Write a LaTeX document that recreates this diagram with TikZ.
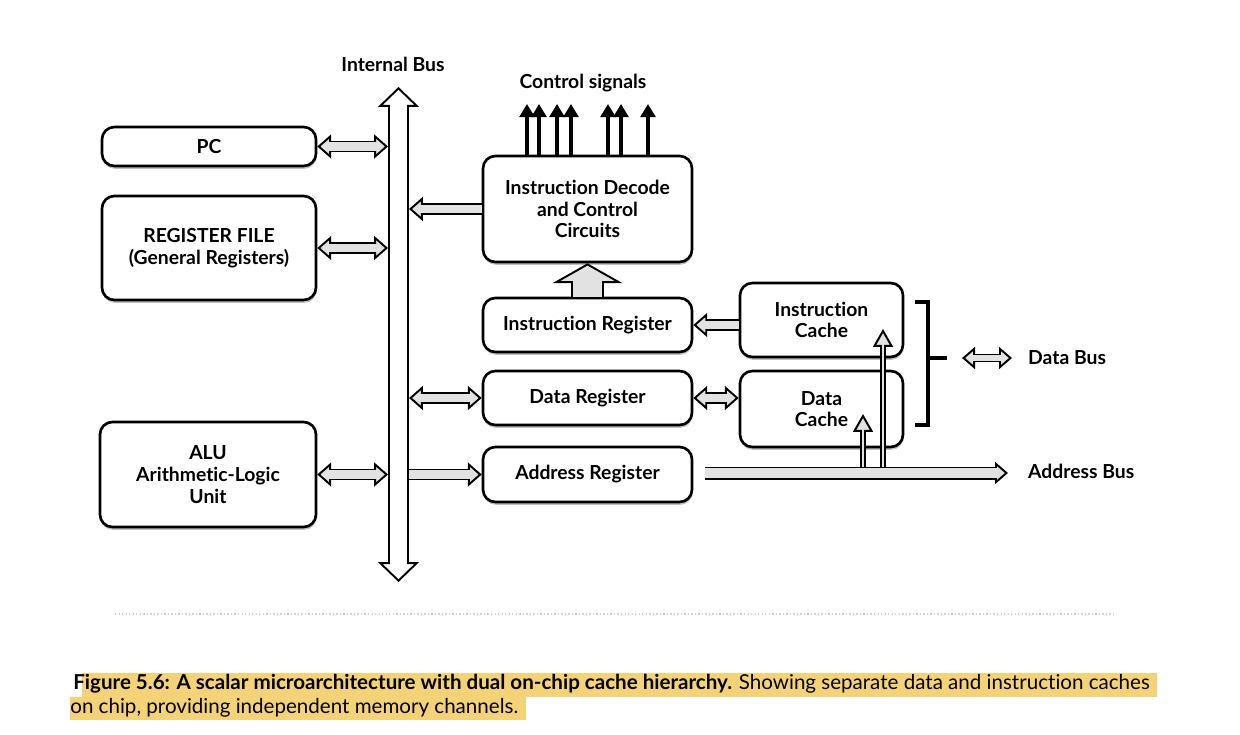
\documentclass[tikz,border=0pt]{standalone}
\usepackage{fontspec}
\setmainfont{Lato}[Ligatures=NoCommon]
\usetikzlibrary{arrows.meta,shadows}
\definecolor{busfill}{RGB}{226,226,226}
\definecolor{marker}{RGB}{244,210,120}
\tikzset{
  unit/.style={draw, line width=1.5pt, rounded corners=7pt, fill=white, align=center, inner sep=0pt,
    font=\bfseries\fontsize{11}{12.3}\selectfont,
    drop shadow={shadow xshift=0.3pt, shadow yshift=-1.6pt, fill=black!50}},
  lbl/.style={font=\bfseries\fontsize{11}{12}\selectfont},
  one/.style args={#1/#2/#3/#4}{line width=#1, draw=black,
    -{Triangle[width=#2, length=#3, line width=1.1pt, fill=#4]},
    postaction={draw=#4, line width=#1-2.2pt, arrows=-, shorten >=#3-1.8pt}},
  two/.style args={#1/#2/#3/#4}{line width=#1, draw=black,
    {Triangle[width=#2, length=#3, line width=1.1pt, fill=#4]}-{Triangle[width=#2, length=#3, line width=1.1pt, fill=#4]},
    postaction={draw=#4, line width=#1-2.2pt, arrows=-, shorten >=#3-1.8pt, shorten <=#3-1.8pt}},
  ctrl/.style={line width=2.3pt, -{Triangle[width=8.5pt, length=7.5pt]}},
}
\begin{document}
\begin{tikzpicture}[x=0.02cm, y=-0.02cm]
   \useasboundingbox (0, 0) rectangle (1240, 734);
   \node[unit, minimum width=4.28cm, minimum height=0.78cm] (pc) at (209, 146.5) {PC};
   \node[unit, minimum width=4.28cm, minimum height=2.08cm] (regs) at (209, 248) {REGISTER FILE\\(General Registers)};
   \node[unit, minimum width=4.32cm, minimum height=2.1cm] (alu) at (208, 474.5) {ALU\\Arithmetic-Logic\\Unit};
   \node[unit, minimum width=4.18cm, minimum height=2.12cm] (decode) at (587.5, 209) {Instruction Decode\\and Control\\Circuits};
   \node[unit, minimum width=4.18cm, minimum height=1.08cm] (ireg) at (587.5, 325) {Instruction Register};
   \node[unit, minimum width=4.18cm, minimum height=1.08cm] (dreg) at (587.5, 398) {Data Register};
   \node[unit, minimum width=4.18cm, minimum height=1.1cm] (areg) at (587.5, 474.5) {Address Register};
   \node[unit, minimum width=3.26cm, minimum height=1.48cm] (icache) at (821.5, 320) {Instruction\\Cache};
   \node[unit, minimum width=3.26cm, minimum height=1.52cm] (dcache) at (821.5, 409) {Data\\Cache};
   \node[lbl] (buslabel) at (393, 64) {Internal Bus};
   \node[lbl] (ctrllabel) at (583, 83) {Control signals};
   \node[lbl, anchor=west] (dbus) at (1022, 358) {Data Bus};
   \node[lbl, anchor=west] (abus) at (1022, 471) {Address Bus};
   \coordinate (bustop) at (398.5, 87);
   \coordinate (busbot) at (398.5, 582);
   \coordinate (busL) at (388, 0);
   \coordinate (busR) at (409, 0);
   \coordinate (abtail) at (705, 473);
   \coordinate (abhead) at (1008, 473);
   \coordinate (dtap) at (863, 473);
   \coordinate (itap) at (883, 473);
   \coordinate (dcin) at (863, 414);
   \coordinate (icin) at (883, 329);
   \coordinate (brtop) at (915, 302);
   \coordinate (brbot) at (915, 425);
   \coordinate (brmid) at (928, 358);
   \coordinate (dbl) at (962, 358);
   \coordinate (dbr) at (1012, 358);
   \draw[two=11.9pt/23.2pt/11.3pt/white] (bustop) -- (busbot);
   \draw[two=6.8pt/13.6pt/7.9pt/busfill] (pc.east) -- (pc.east -| busL);
   \draw[two=6.8pt/13.6pt/7.9pt/busfill] (regs.east) -- (regs.east -| busL);
   \draw[two=6.8pt/13.6pt/7.9pt/busfill] (alu.east) -- (alu.east -| busL);
   \draw[one=6.8pt/13.6pt/7.9pt/busfill] (decode.west) -- (decode.west -| busR);
   \draw[two=6.8pt/13.6pt/7.9pt/busfill] (dreg.west -| busR) -- (dreg.west);
   \draw[one=6.8pt/13.6pt/7.9pt/busfill] (areg.west -| busR) -- (areg.west);
   \draw[one=6.8pt/13.6pt/7.9pt/busfill] (icache.west |- ireg.east) -- (ireg.east);
   \draw[two=6.8pt/13.6pt/7.9pt/busfill] (dreg.east) -- (dreg.east -| dcache.west);
   \draw[one=18.7pt/39.7pt/11.3pt/busfill] (ireg.north) -- (decode.south);
   \foreach \x in {527, 539, 557, 571, 608, 621, 648} {
      \coordinate (c\x) at (\x, 104);
      \draw[ctrl] (decode.north -| c\x) -- (c\x);
   }
   \draw[one=3.4pt/11.3pt/10.2pt/busfill] (dtap) -- (dcin);
   \draw[one=3.4pt/11.3pt/10.2pt/busfill] (itap) -- (icin);
   \draw[one=7.4pt/12.5pt/7.4pt/busfill] (abtail) -- (abhead);
   \draw[line width=2.3pt] (brtop) -- (brtop -| brmid) -- (brbot -| brmid) -- (brbot);
   \draw[line width=2.3pt] (brmid) -- ++(19, 0);
   \draw[two=5.1pt/12.5pt/7.4pt/busfill] (dbl) -- (dbr);
   \draw[gray!35, line width=1.2pt, dash pattern=on 0.8pt off 1.2pt] (115, 614) -- (1115, 614);
   \fill[marker] (82, 673) rectangle (1157, 697);
   \fill[marker] (70, 697) rectangle (526, 720);
   \node[anchor=base west, inner sep=0pt, font=\fontsize{11.7}{12}\selectfont] (cap1) at (73, 689) {\textbf{Figure 5.6: A scalar microarchitecture with dual on-chip cache hierarchy.} Showing separate data and instruction caches};
   \node[anchor=base west, inner sep=0pt, font=\fontsize{11.7}{12}\selectfont] (cap2) at (70, 713) {on chip, providing independent memory channels.};
\end{tikzpicture}
\end{document}
